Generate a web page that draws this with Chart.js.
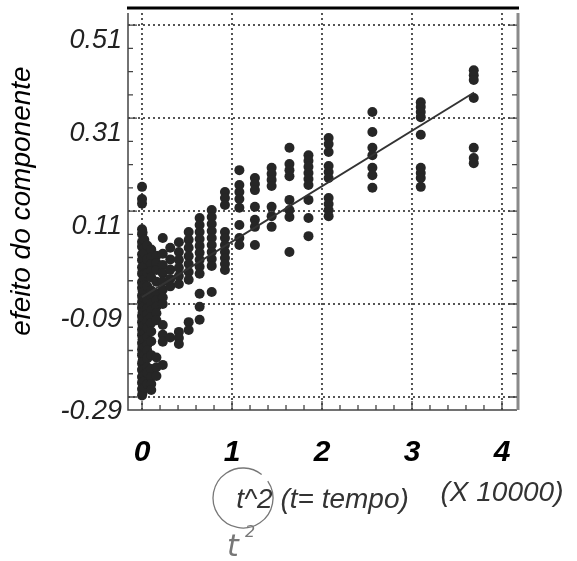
<!DOCTYPE html>
<html>
<head>
<meta charset="utf-8">
<script src="https://cdn.jsdelivr.net/npm/chart.js@4"></script>
<style>
  html, body { margin: 0; padding: 0; background: #fff; }
  #caixa { width: 577px; height: 561px; }
</style>
</head>
<body>
<div id="caixa"><canvas id="grafico"></canvas></div>
<script>
// colunas de t^2 (x 10000), uma para cada tempo t
const colunasX = [0, 0.0064, 0.0256, 0.0576, 0.1024, 0.16, 0.2304, 0.3136, 0.4096, 0.5184, 0.64,
  0.7744, 0.9216, 1.0816, 1.2544, 1.44, 1.6384, 1.8496, 2.0736, 2.56, 3.0976, 3.6864];

// efeito do componente lido em cada coluna
const y_t0 = [0.162, 0.136, 0.126, 0.071, 0.06, 0.044, 0.033, 0.017, 0.004, -0.011, -0.025, -0.043, -0.055, -0.072, -0.086,
  -0.098, -0.116, -0.129, -0.145, -0.157, -0.174, -0.188, -0.2, -0.218, -0.232, -0.247, -0.259, -0.273, -0.287];
const y_t8 = [0.064, 0.037, 0.008, -0.02, -0.046, -0.062, -0.078, -0.093, -0.108, -0.122, -0.137, -0.152, -0.166,
  -0.181, -0.196, -0.212, -0.228, -0.245, -0.262, -0.281];
const y_t16 = [0.048, 0.03, 0.019, -0.009, -0.025, -0.037, -0.05, -0.063, -0.077, -0.094, -0.106, -0.121, -0.136,
  -0.152, -0.166, -0.183, -0.2, -0.214, -0.23, -0.243, -0.256, -0.27];
const y_t24 = [0.036, 0.006, -0.024, -0.052, -0.081, -0.1, -0.112, -0.126, -0.141, -0.161, -0.178, -0.19, -0.207,
  -0.226, -0.238, -0.262];
const y_t32 = [0.027, 0.01, -0.004, -0.019, -0.033, -0.061, -0.076, -0.089, -0.104, -0.118, -0.131, -0.149, -0.17,
  -0.2, -0.23, -0.247, -0.262, -0.275];
const y_t40 = [0.014, -0.002, -0.017, -0.042, -0.068, -0.082, -0.096, -0.11, -0.125, -0.205, -0.226, -0.245];
const y_t48 = [0.052, 0.018, -0.006, -0.024, -0.041, -0.059, -0.076, -0.09, -0.135, -0.156, -0.171, -0.221];
const y_t56 = [0.031, 0.006, -0.016, -0.036, -0.052, -0.162];
const y_t64 = [0.043, 0.022, 0.005, -0.012, -0.03, -0.047, -0.15, -0.163, -0.176];
const y_t72 = [0.065, 0.048, 0.031, 0.013, -0.004, -0.021, -0.038, -0.129, -0.146];
const y_t80 = [0.095, 0.08, 0.065, 0.05, 0.035, 0.02, 0.005, -0.01, -0.025, -0.068, -0.096, -0.124];
const y_t88 = [0.112, 0.097, 0.082, 0.067, 0.052, 0.037, 0.022, 0.007, -0.008, -0.064];
const y_t96 = [0.151, 0.138, 0.123, 0.065, 0.052, 0.037, 0.022, 0.009, -0.004, -0.017];
const y_t104 = [0.198, 0.166, 0.151, 0.136, 0.117, 0.08, 0.052, 0.037];
const y_t112 = [0.181, 0.168, 0.155, 0.119, 0.091, 0.076, 0.037];
const y_t120 = [0.203, 0.19, 0.177, 0.164, 0.119, 0.099, 0.076];
const y_t128 = [0.246, 0.211, 0.198, 0.185, 0.134, 0.112, 0.097, 0.022];
const y_t136 = [0.23, 0.218, 0.205, 0.192, 0.179, 0.166, 0.134, 0.095, 0.056];
const y_t144 = [0.267, 0.254, 0.237, 0.207, 0.194, 0.181, 0.138, 0.125, 0.112, 0.099];
const y_t160 = [0.323, 0.28, 0.246, 0.23, 0.203, 0.187, 0.16];
const y_t176 = [0.344, 0.334, 0.323, 0.312, 0.274, 0.203, 0.192, 0.181, 0.162];
const y_t192 = [0.413, 0.402, 0.392, 0.353, 0.246, 0.224, 0.213];

const colunasY = [y_t0, y_t8, y_t16, y_t24, y_t32, y_t40, y_t48, y_t56, y_t64, y_t72, y_t80,
  y_t88, y_t96, y_t104, y_t112, y_t120, y_t128, y_t136, y_t144, y_t160, y_t176, y_t192];

// reta ajustada (extremos)
const retaX = [0, 3.69];
const retaY = [-0.075, 0.365];

// eixos
const ticksX = [0, 1, 2, 3, 4];
const rotulosX = ["0", "1", "2", "3", "4"];
const ticksY = [-0.29, -0.09, 0.11, 0.31, 0.51];
const rotulosY = ["-0.29", "-0.09", "0.11", "0.31", "0.51"];

const pontos = [];
colunasX.forEach((x, i) => {
  colunasY[i].forEach((y) => pontos.push({ x: x, y: y }));
});
const reta = retaX.map((x, i) => ({ x: x, y: retaY[i] }));

const fonte = '"Liberation Sans", Arial, sans-serif';

// moldura, marcas internas e textos soltos
const moldura = {
  id: "moldura",
  afterDatasetsDraw(chart) {
    const { ctx, chartArea: a, scales } = chart;
    const sx = scales.x, sy = scales.y;
    ctx.save();
    ctx.strokeStyle = "#444";
    ctx.lineWidth = 1.5;
    ctx.beginPath();
    ctx.moveTo(a.left, a.top);
    ctx.lineTo(a.left, a.bottom);
    ctx.lineTo(a.right, a.bottom);
    ctx.stroke();
    ctx.strokeStyle = "#8a8a8a";
    ctx.lineWidth = 3;
    ctx.beginPath();
    ctx.moveTo(a.right + 1, a.top);
    ctx.lineTo(a.right + 1, a.bottom);
    ctx.stroke();
    ctx.strokeStyle = "#000";
    ctx.beginPath();
    ctx.moveTo(a.left - 1, 8);
    ctx.lineTo(a.right + 2, 8);
    ctx.stroke();

    ctx.strokeStyle = "#444";
    ctx.lineWidth = 1.3;
    ctx.beginPath();
    for (let k = 0; k <= 16; k++) {
      const py = sy.getPixelForValue(ticksY[0] + k * 0.05);
      const len = k % 4 === 0 ? 9 : 5;
      ctx.moveTo(a.left, py);
      ctx.lineTo(a.left + len, py);
      ctx.moveTo(a.right, py);
      ctx.lineTo(a.right - len, py);
    }
    for (let k = 0; k <= 20; k++) {
      const px = sx.getPixelForValue(k * 0.2);
      const len = k % 5 === 0 ? 9 : 5;
      ctx.moveTo(px, a.bottom);
      ctx.lineTo(px, a.bottom - len);
    }
    ctx.stroke();
    ctx.restore();
  },
  afterDraw(chart) {
    const { ctx } = chart;
    ctx.save();
    ctx.fillStyle = "#000";
    ctx.font = "italic 28px " + fonte;
    ctx.textAlign = "center";
    ctx.textBaseline = "middle";
    ctx.translate(22, 201);
    ctx.rotate(-Math.PI / 2);
    ctx.fillText("efeito do componente", 0, 0);
    ctx.restore();

    ctx.save();
    ctx.fillStyle = "#333";
    ctx.font = "italic 28px " + fonte;
    ctx.textAlign = "center";
    ctx.textBaseline = "middle";
    ctx.fillText("(X 10000)", 502, 493);
    // circulo feito a mao em volta de t^2
    ctx.strokeStyle = "#777";
    ctx.lineWidth = 1.3;
    ctx.beginPath();
    ctx.ellipse(243, 498, 30, 30, 0, -0.6, 2 * Math.PI - 0.9);
    ctx.stroke();
    ctx.fillStyle = "#777";
    ctx.font = "italic 30px 'DejaVu Sans', sans-serif";
    ctx.fillText("t", 233, 548);
    ctx.font = "italic 16px 'DejaVu Sans', sans-serif";
    ctx.fillText("2", 250, 533);
    ctx.restore();
  },
};

new Chart(document.getElementById("grafico"), {
  type: "scatter",
  data: {
    datasets: [
      {
        type: "line",
        label: "reta",
        data: reta,
        borderColor: "#333",
        borderWidth: 2,
        pointRadius: 0,
        fill: false,
        order: 0,
      },
      {
        label: "efeito",
        data: pontos,
        backgroundColor: "#262626",
        borderWidth: 0,
        pointRadius: 5,
        order: 1,
      },
    ],
  },
  options: {
    responsive: true,
    maintainAspectRatio: false,
    animation: false,
    devicePixelRatio: 1,
    layout: { padding: { top: 13, right: 60, left: 0, bottom: 0 } },
    plugins: { legend: { display: false }, tooltip: { enabled: false } },
    scales: {
      x: {
        type: "linear",
        min: -0.156,
        max: 4.167,
        afterBuildTicks: (s) => { s.ticks = ticksX.map((v) => ({ value: v })); },
        afterFit: (s) => { s.height = 151; s.paddingLeft = 0; s.paddingRight = 0; },
        ticks: {
          callback: (v) => rotulosX[ticksX.indexOf(v)],
          font: { family: fonte, size: 30, style: "italic", weight: "bold" },
          color: "#000",
          padding: 25,
          maxRotation: 0,
          autoSkip: false,
        },
        grid: { color: "#555", lineWidth: 2, drawTicks: false },
        border: { display: false, dash: [2, 3] },
        title: {
          display: true,
          text: "t^2 (t= tempo)",
          font: { family: fonte, size: 28, style: "italic" },
          color: "#333",
          padding: { top: 0, bottom: 44 },
        },
      },
      y: {
        min: -0.318,
        max: 0.536,
        afterBuildTicks: (s) => { s.ticks = ticksY.map((v) => ({ value: v })); },
        afterFit: (s) => { s.width = 128; s.paddingTop = 0; s.paddingBottom = 0; },
        ticks: {
          callback: (v) => rotulosY[ticksY.indexOf(v)],
          font: { family: fonte, size: 27, style: "italic" },
          color: "#222",
          padding: 6,
          labelOffset: 15,
          autoSkip: false,
        },
        grid: { color: "#555", lineWidth: 2, drawTicks: false },
        border: { display: false, dash: [2, 3] },
      },
    },
  },
  plugins: [moldura],
});
</script>
</body>
</html>
